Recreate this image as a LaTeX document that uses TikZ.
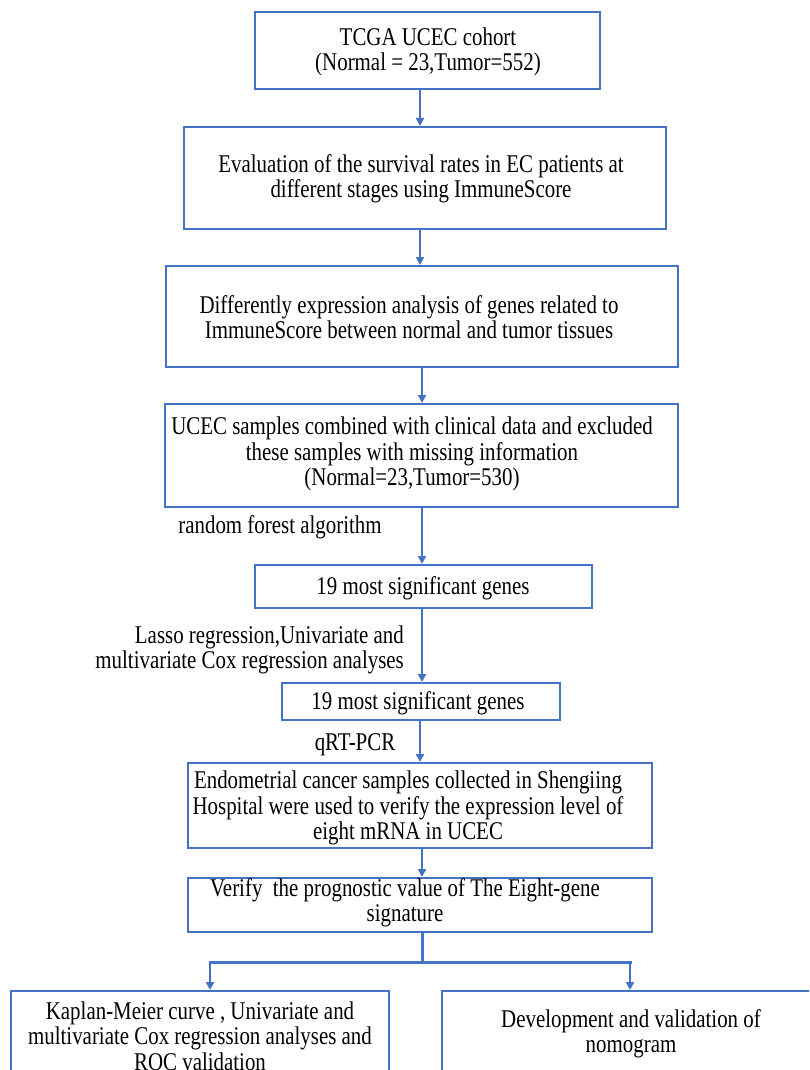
\documentclass[tikz,border=0pt]{standalone}
\usepackage{fontspec}
\setmainfont[FakeStretch=0.82]{Liberation Serif}
\usetikzlibrary{arrows.meta}
\definecolor{flowblue}{HTML}{4472C4}
\begin{document}
\begin{tikzpicture}[x=1pt,y=-1pt,
  box/.style={draw=flowblue, line width=2pt, rectangle, inner sep=0pt},
  txt/.style={align=center, inner sep=0pt, font=\fontsize{25.5}{25.5}\selectfont},
  arr/.style={draw=flowblue, line width=2pt, -{Triangle[length=8pt,width=8pt]}},
  split/.style={draw=flowblue, line width=3pt},
  splitarr/.style={draw=flowblue, line width=2.6pt, -{Triangle[length=8pt,width=8pt]}}
]
\clip (0,0) rectangle (809,1070);
\fill[white] (0,0) rectangle (809,1070);
% boxes
\node[box, minimum width=345pt, minimum height=77pt] (b1) at (427.5,50.5) {};
\node[box, minimum width=482pt, minimum height=102pt] (b2) at (425,178) {};
\node[box, minimum width=512pt, minimum height=101pt] (b3) at (422,316.5) {};
\node[box, minimum width=513pt, minimum height=103pt] (b4) at (421.5,455.5) {};
\node[box, minimum width=337pt, minimum height=43pt] (b5) at (423.5,586.5) {};
\node[box, minimum width=278pt, minimum height=37pt] (b6) at (421,701.5) {};
\node[box, minimum width=464pt, minimum height=85pt] (b7) at (420,805.5) {};
\node[box, minimum width=464pt, minimum height=54pt] (b8) at (420,905) {};
\node[box, minimum width=378pt, minimum height=109pt] (b9) at (200,1045.5) {};
\node[box, minimum width=398pt, minimum height=109pt] (b10) at (641,1045.5) {};
% texts
\node[txt] (t1) at (428,52) {TCGA UCEC cohort\\(Normal = 23,Tumor=552)};
\node[txt] (t2) at (421,179) {Evaluation of the survival rates in EC patients at\\different stages using ImmuneScore};
\node[txt] (t3) at (409,317) {Differently expression analysis of genes related to\\ImmuneScore between normal and tumor tissues};
\node[txt] (t4) at (412,454) {UCEC samples combined with clinical data and excluded\\these samples with missing information\\(Normal=23,Tumor=530)};
\node[txt] (t5) at (423,588) {19 most significant genes};
\node[txt] (t6) at (418,703) {19 most significant genes};
\node[txt] (t7) at (408,808) {Endometrial cancer samples collected in Shengiing\\Hospital were used to verify the expression level of\\eight mRNA in UCEC};
\node[txt] (t8) at (405,903) {Verify\ \ the prognostic value of The Eight-gene\\signature};
\node[txt] (t9) at (200,1036) {Kaplan-Meier curve , Univariate and\\multivariate Cox regression analyses and\\ROC validation};
\node[txt] (t10) at (631,1034) {Development and validation of\\nomogram};
% labels
\node[txt] (l1) at (280,527) {random forest algorithm};
\node[txt, align=right, anchor=east] (l2) at (404,650) {Lasso regression,Univariate and\\multivariate Cox regression analyses};
\node[txt] (l3) at (355,745) {qRT-PCR};
% connectors
\coordinate (ax0) at (420,0);
\coordinate (ax1) at (422,0);
\draw[arr] (b1.south -| ax0) -- (b2.north -| ax0);
\draw[arr] (b2.south -| ax0) -- (b3.north -| ax0);
\draw[arr] (b3.south -| ax1) -- (b4.north -| ax1);
\draw[arr] (b4.south -| ax1) -- (b5.north -| ax1);
\draw[arr] (b5.south -| ax1) -- (b6.north -| ax1);
\draw[arr] (b6.south -| ax0) -- (b7.north -| ax0);
\draw[arr] (b7.south -| ax1) -- (b8.north -| ax1);
\coordinate (sp) at (422,962);
\coordinate (sl) at (210,962);
\coordinate (sr) at (630,962);
\draw[split] (b8.south -| sp) -- (sp);
\draw[split, line cap=rect] (sl) -- (sr);
\draw[splitarr] (sl) -- (b9.north -| sl);
\draw[splitarr] (sr) -- (b10.north -| sr);
\end{tikzpicture}
\end{document}
